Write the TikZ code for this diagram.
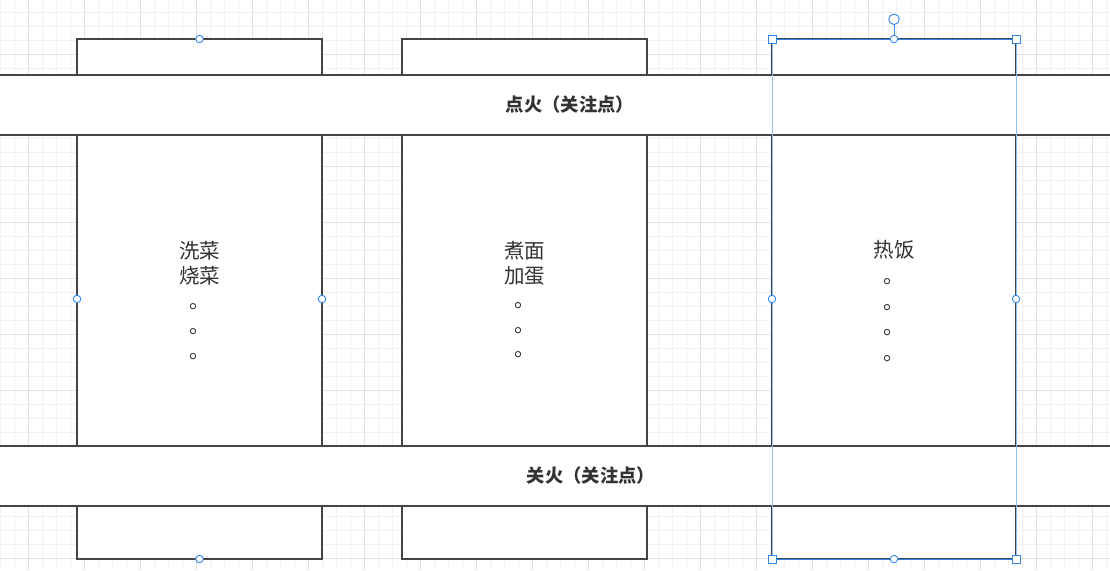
\documentclass[tikz,border=0pt]{standalone}
\usepackage{fontspec}
\usepackage{tikz}
\usetikzlibrary{positioning}
\newfontfamily\cjk{Noto Sans CJK SC}
\definecolor{linie}{HTML}{444444}
\definecolor{schrift}{HTML}{333333}
\definecolor{raster}{HTML}{F1F1F1}
\definecolor{rasterdunkel}{HTML}{E2E2E2}
\definecolor{auswahl}{HTML}{2F86EB}
\definecolor{hilfslinie}{HTML}{8CC0F2}

\begin{document}
\begin{tikzpicture}[x=1pt, y=-1pt,
    kasten/.style={draw=linie, fill=white, line width=1.3pt, minimum width=245pt,
                   minimum height=520pt, inner sep=0pt, outer sep=0pt},
    balken/.style={draw=linie, fill=white, line width=1.3pt, minimum height=60pt,
                   inner sep=0pt, outer sep=0pt, text=schrift,
                   font=\cjk\bfseries\fontsize{18.3}{20}\selectfont},
    inhalt/.style={text=schrift, align=center, font=\cjk\fontsize{20.5}{25}\selectfont},
    punkt/.style={circle, draw=auswahl, fill=white, line width=0.9pt,
                  inner sep=0pt, minimum size=7.5pt},
    griff/.style={rectangle, draw=auswahl, fill=white, line width=0.9pt,
                  inner sep=0pt, minimum size=8pt}]
      \useasboundingbox (0,0) rectangle (1110,570);
      \clip (0,0) rectangle (1110,570);

      % Raster
      \foreach \x in {0,14,...,1106} \draw[raster, line width=0.8pt] (\x,0) -- (\x,570);
      \foreach \y in {12,26,...,568} \draw[raster, line width=0.8pt] (0,\y) -- (1110,\y);
      \foreach \x in {28,84,...,1092} \draw[rasterdunkel, line width=0.8pt] (\x,0) -- (\x,570);
      \foreach \y in {54,110,...,558} \draw[rasterdunkel, line width=0.8pt] (0,\y) -- (1110,\y);

      % Spalten
      \node[kasten] (r1) at (199.5,299) {};
      \node[kasten] (r2) at (524.5,299) {};
      \node[kasten, minimum width=244pt] (r3) at (894,299) {};

      % Querbalken
      \node[balken, minimum width=1240pt] (oben) at (570,105) {点火（关注点）};
      \node[balken, minimum width=1280pt] (unten) at (591,476) {关火（关注点）};

      \node[inhalt, yshift=-2pt] (t1) at (r1.center) {洗菜\\烧菜\\。\\。\\。};
      \node[inhalt, yshift=-1pt, font=\cjk\fontsize{20.5}{24.5}\selectfont] (t2) at (r2.center)
        {煮面\\加蛋\\。\\。\\。};
      \node[inhalt, yshift=-2pt, font=\cjk\fontsize{20.5}{25.6}\selectfont] (t3) at (r3.center)
        {热饭\\。\\。\\。\\。};

      % Auswahl
      \draw[hilfslinie, line width=0.8pt] (r3.north west) rectangle (r3.south east);
      \draw[auswahl, line width=0.9pt] (r3.north west) -- (r3.north east);
      \draw[auswahl, line width=0.9pt] (r3.south west) -- (r3.south east);
      \node[punkt, minimum size=10.5pt, above=14pt of r3.north] (dreh) {};
      \draw[auswahl, line width=0.9pt] (dreh) -- (r3.north);
      \foreach \ecke in {north west, north east, south west, south east}
        \node[griff] at (r3.\ecke) {};
      \foreach \seite in {north, west, east, south} {
        \node[punkt] at (r1.\seite) {};
        \node[punkt] at (r3.\seite) {};
      }
    \end{tikzpicture}
\end{document}
